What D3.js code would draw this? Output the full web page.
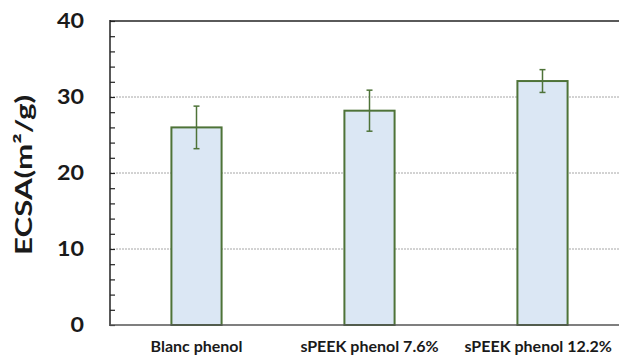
<!DOCTYPE html>
<html><head><meta charset="utf-8">
<script src="https://cdn.jsdelivr.net/npm/d3@7"></script>
<style>body{margin:0;background:#fff}svg{display:block}</style>
</head><body>
<svg id="c" width="619" height="356"></svg>
<script>
const categories = ["Blanc phenol", "sPEEK phenol 7.6%", "sPEEK phenol 12.2%"];
const values = [26.0, 28.2, 32.1];
const errors = [2.8, 2.7, 1.5];
const yTicks = [0, 10, 20, 30, 40];
const yTitle = "ECSA(m²/g)";

const svg = d3.select("#c");
const L = 110, T = 21, B = 325, R = 629;
const FONT = "Lato, 'Open Sans', sans-serif";
const x = d3.scaleBand().domain(categories).range([L, R]).paddingInner(0.71).paddingOuter(0.355);
const y = d3.scaleLinear().domain([0, 40]).range([B, T]);

// gridlines
svg.append("g").selectAll("line").data(yTicks.filter(d => d > 0 && d < 40)).join("line")
  .attr("x1", L).attr("x2", 619).attr("y1", d => y(d)).attr("y2", d => y(d))
  .attr("stroke", "#a6a6a6").attr("stroke-width", 1).attr("stroke-dasharray", "2,1");
// top border
svg.append("line").attr("x1", L).attr("x2", 619).attr("y1", y(40)).attr("y2", y(40))
  .attr("stroke", "#5a5a5a").attr("stroke-width", 2);

// bars
svg.append("g").selectAll("rect").data(categories).join("rect")
  .attr("x", d => x(d)).attr("width", x.bandwidth())
  .attr("y", (d, i) => y(values[i])).attr("height", (d, i) => y(0) - y(values[i]))
  .attr("fill", "#dbe7f4").attr("stroke", "#4e7338").attr("stroke-width", 2);

// error bars
const eg = svg.append("g").attr("stroke", "#4e7338").attr("stroke-width", 1.5);
categories.forEach((c, i) => {
  const cx = x(c) + x.bandwidth() / 2;
  eg.append("line").attr("x1", cx).attr("x2", cx).attr("y1", y(values[i] + errors[i])).attr("y2", y(values[i] - errors[i]));
  [values[i] + errors[i], values[i] - errors[i]].forEach(v => {
    eg.append("line").attr("x1", cx - 3).attr("x2", cx + 3).attr("y1", y(v)).attr("y2", y(v));
  });
});

// y axis with inward minor ticks
const yAxis = d3.axisRight(y).tickValues(d3.range(0, 41, 2)).tickSize(5).tickFormat("");
const ya = svg.append("g").attr("transform", `translate(${L},0)`).call(yAxis);
ya.select(".domain").remove();
ya.selectAll("line").attr("stroke", "#222").attr("stroke-width", 1.2);
svg.append("line").attr("x1", L).attr("x2", L).attr("y1", T - 1).attr("y2", B + 1).attr("stroke", "#222").attr("stroke-width", 1.5);
// x axis line
svg.append("line").attr("x1", L).attr("x2", 619).attr("y1", B).attr("y2", B).attr("stroke", "#555").attr("stroke-width", 1.5);

// y tick labels
svg.append("g").selectAll("text").data(yTicks).join("text")
  .attr("x", 84).attr("y", d => y(d)).attr("dy", "0.36em").attr("text-anchor", "end")
  .attr("font-family", FONT).attr("font-weight", "bold").attr("font-size", 20)
  .attr("textLength", d => String(d).length * 13.5).attr("lengthAdjust", "spacingAndGlyphs")
  .attr("fill", "#1a1a1a").text(d => d);

// category labels (kept inside the right edge)
svg.append("g").selectAll("text").data(categories).join("text")
  .attr("y", 352).attr("text-anchor", "middle")
  .attr("font-family", FONT).attr("font-weight", "bold").attr("font-size", 16)
  .attr("fill", "#1a1a1a").text(d => d)
  .each(function(d) {
    const w = this.getComputedTextLength();
    let cx = x(d) + x.bandwidth() / 2;
    if (cx + w / 2 > 612) cx = 612 - w / 2;
    d3.select(this).attr("x", cx);
  });

// y title
svg.append("text").attr("transform", "translate(32,175) rotate(-90)").attr("text-anchor", "middle")
  .attr("font-family", FONT).attr("font-weight", "bold").attr("font-size", 23.5)
  .attr("textLength", 160).attr("lengthAdjust", "spacingAndGlyphs")
  .attr("fill", "#1a1a1a").text(yTitle);
</script>
</body></html>
